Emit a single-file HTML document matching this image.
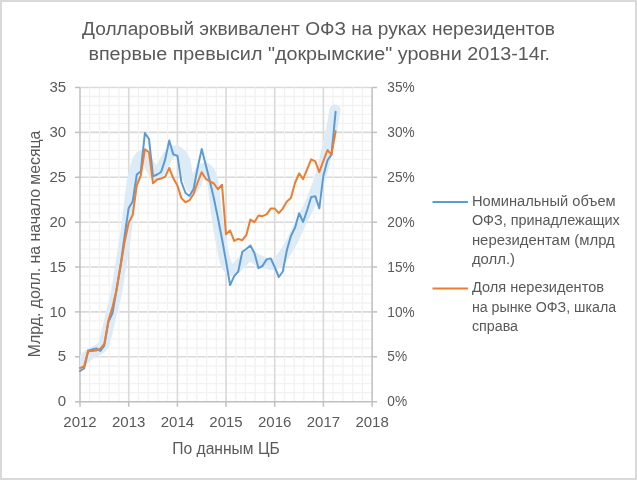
<!DOCTYPE html>
<html><head><meta charset="utf-8"><style>
html,body{margin:0;padding:0;background:#fff}
body{width:637px;height:480px;overflow:hidden}
svg{display:block;filter:blur(0.4px)}
.mn{stroke:#f2f2f2;stroke-width:1.3}
.mj{stroke:#d9d9d9;stroke-width:1.6}
.ax line{stroke:#bfbfbf;stroke-width:1.5}
text{font-family:"Liberation Sans",Arial,sans-serif;fill:#595959}
.tk{font-size:15px}
.ttl{font-size:18px}
.lg{font-size:13.8px}
.at{font-size:16px}
</style></head><body>
<svg width="637" height="480" viewBox="0 0 637 480">
<rect x="1" y="1" width="635" height="478" fill="#fff" stroke="#d9d9d9" stroke-width="2"/>
<g><line x1="80.0" x2="372.1" y1="392.7" y2="392.7" class="mn"/>
<line x1="80.0" x2="372.1" y1="383.7" y2="383.7" class="mn"/>
<line x1="80.0" x2="372.1" y1="374.8" y2="374.8" class="mn"/>
<line x1="80.0" x2="372.1" y1="365.8" y2="365.8" class="mn"/>
<line x1="80.0" x2="372.1" y1="347.8" y2="347.8" class="mn"/>
<line x1="80.0" x2="372.1" y1="338.9" y2="338.9" class="mn"/>
<line x1="80.0" x2="372.1" y1="329.9" y2="329.9" class="mn"/>
<line x1="80.0" x2="372.1" y1="320.9" y2="320.9" class="mn"/>
<line x1="80.0" x2="372.1" y1="303.0" y2="303.0" class="mn"/>
<line x1="80.0" x2="372.1" y1="294.0" y2="294.0" class="mn"/>
<line x1="80.0" x2="372.1" y1="285.0" y2="285.0" class="mn"/>
<line x1="80.0" x2="372.1" y1="276.0" y2="276.0" class="mn"/>
<line x1="80.0" x2="372.1" y1="258.1" y2="258.1" class="mn"/>
<line x1="80.0" x2="372.1" y1="249.1" y2="249.1" class="mn"/>
<line x1="80.0" x2="372.1" y1="240.1" y2="240.1" class="mn"/>
<line x1="80.0" x2="372.1" y1="231.1" y2="231.1" class="mn"/>
<line x1="80.0" x2="372.1" y1="213.2" y2="213.2" class="mn"/>
<line x1="80.0" x2="372.1" y1="204.2" y2="204.2" class="mn"/>
<line x1="80.0" x2="372.1" y1="195.2" y2="195.2" class="mn"/>
<line x1="80.0" x2="372.1" y1="186.3" y2="186.3" class="mn"/>
<line x1="80.0" x2="372.1" y1="168.3" y2="168.3" class="mn"/>
<line x1="80.0" x2="372.1" y1="159.3" y2="159.3" class="mn"/>
<line x1="80.0" x2="372.1" y1="150.3" y2="150.3" class="mn"/>
<line x1="80.0" x2="372.1" y1="141.4" y2="141.4" class="mn"/>
<line x1="80.0" x2="372.1" y1="123.4" y2="123.4" class="mn"/>
<line x1="80.0" x2="372.1" y1="114.4" y2="114.4" class="mn"/>
<line x1="80.0" x2="372.1" y1="105.5" y2="105.5" class="mn"/>
<line x1="80.0" x2="372.1" y1="96.5" y2="96.5" class="mn"/>
<line x1="80.0" x2="372.1" y1="356.8" y2="356.8" class="mj"/>
<line x1="80.0" x2="372.1" y1="311.9" y2="311.9" class="mj"/>
<line x1="80.0" x2="372.1" y1="267.0" y2="267.0" class="mj"/>
<line x1="80.0" x2="372.1" y1="222.2" y2="222.2" class="mj"/>
<line x1="80.0" x2="372.1" y1="177.3" y2="177.3" class="mj"/>
<line x1="80.0" x2="372.1" y1="132.4" y2="132.4" class="mj"/>
<line x1="80.0" x2="372.1" y1="87.5" y2="87.5" class="mj"/>
<line x1="89.7" x2="89.7" y1="87.5" y2="401.7" class="mn"/>
<line x1="99.5" x2="99.5" y1="87.5" y2="401.7" class="mn"/>
<line x1="109.2" x2="109.2" y1="87.5" y2="401.7" class="mn"/>
<line x1="118.9" x2="118.9" y1="87.5" y2="401.7" class="mn"/>
<line x1="138.4" x2="138.4" y1="87.5" y2="401.7" class="mn"/>
<line x1="148.2" x2="148.2" y1="87.5" y2="401.7" class="mn"/>
<line x1="157.9" x2="157.9" y1="87.5" y2="401.7" class="mn"/>
<line x1="167.6" x2="167.6" y1="87.5" y2="401.7" class="mn"/>
<line x1="187.1" x2="187.1" y1="87.5" y2="401.7" class="mn"/>
<line x1="196.8" x2="196.8" y1="87.5" y2="401.7" class="mn"/>
<line x1="206.6" x2="206.6" y1="87.5" y2="401.7" class="mn"/>
<line x1="216.3" x2="216.3" y1="87.5" y2="401.7" class="mn"/>
<line x1="235.8" x2="235.8" y1="87.5" y2="401.7" class="mn"/>
<line x1="245.5" x2="245.5" y1="87.5" y2="401.7" class="mn"/>
<line x1="255.2" x2="255.2" y1="87.5" y2="401.7" class="mn"/>
<line x1="265.0" x2="265.0" y1="87.5" y2="401.7" class="mn"/>
<line x1="284.5" x2="284.5" y1="87.5" y2="401.7" class="mn"/>
<line x1="294.2" x2="294.2" y1="87.5" y2="401.7" class="mn"/>
<line x1="303.9" x2="303.9" y1="87.5" y2="401.7" class="mn"/>
<line x1="313.7" x2="313.7" y1="87.5" y2="401.7" class="mn"/>
<line x1="333.1" x2="333.1" y1="87.5" y2="401.7" class="mn"/>
<line x1="342.9" x2="342.9" y1="87.5" y2="401.7" class="mn"/>
<line x1="352.6" x2="352.6" y1="87.5" y2="401.7" class="mn"/>
<line x1="362.3" x2="362.3" y1="87.5" y2="401.7" class="mn"/>
<line x1="128.7" x2="128.7" y1="87.5" y2="401.7" class="mj"/>
<line x1="177.4" x2="177.4" y1="87.5" y2="401.7" class="mj"/>
<line x1="226.0" x2="226.0" y1="87.5" y2="401.7" class="mj"/>
<line x1="274.7" x2="274.7" y1="87.5" y2="401.7" class="mj"/>
<line x1="323.4" x2="323.4" y1="87.5" y2="401.7" class="mj"/></g>
<g class="ax"><line x1="80.0" x2="80.0" y1="87.5" y2="406.7"/>
<line x1="372.1" x2="372.1" y1="87.5" y2="406.7"/>
<line x1="75.0" x2="377.1" y1="401.7" y2="401.7"/>
<line x1="75.0" x2="80.0" y1="356.8" y2="356.8"/>
<line x1="372.1" x2="377.1" y1="356.8" y2="356.8"/>
<line x1="75.0" x2="80.0" y1="311.9" y2="311.9"/>
<line x1="372.1" x2="377.1" y1="311.9" y2="311.9"/>
<line x1="75.0" x2="80.0" y1="267.0" y2="267.0"/>
<line x1="372.1" x2="377.1" y1="267.0" y2="267.0"/>
<line x1="75.0" x2="80.0" y1="222.2" y2="222.2"/>
<line x1="372.1" x2="377.1" y1="222.2" y2="222.2"/>
<line x1="75.0" x2="80.0" y1="177.3" y2="177.3"/>
<line x1="372.1" x2="377.1" y1="177.3" y2="177.3"/>
<line x1="75.0" x2="80.0" y1="132.4" y2="132.4"/>
<line x1="372.1" x2="377.1" y1="132.4" y2="132.4"/>
<line x1="75.0" x2="80.0" y1="87.5" y2="87.5"/>
<line x1="372.1" x2="377.1" y1="87.5" y2="87.5"/>
<line x1="128.7" x2="128.7" y1="401.7" y2="406.7"/>
<line x1="177.4" x2="177.4" y1="401.7" y2="406.7"/>
<line x1="226.0" x2="226.0" y1="401.7" y2="406.7"/>
<line x1="274.7" x2="274.7" y1="401.7" y2="406.7"/>
<line x1="323.4" x2="323.4" y1="401.7" y2="406.7"/></g>
<defs><clipPath id="pc"><rect x="80.0" y="77.5" width="292.1" height="324.2"/></clipPath></defs>
<path clip-path="url(#pc)" d="M80.0,363.3 C81.0,362.3 84.2,359.2 86.0,357.5 C87.8,355.8 89.2,354.2 91.0,353.0 C92.8,351.8 95.0,351.7 97.0,350.5 C99.0,349.3 101.5,348.4 103.0,345.8 C104.5,343.2 104.9,340.6 106.3,335.0 C107.7,329.4 109.8,320.0 111.6,312.5 C113.4,305.0 115.2,299.1 116.9,290.0 C118.6,280.9 120.3,268.8 122.0,258.0 C123.7,247.2 125.3,237.7 127.0,225.0 C128.7,212.3 130.8,192.0 132.3,182.0 C133.9,172.0 134.9,169.2 136.3,165.0 C137.7,160.8 139.1,157.8 140.5,156.5 C141.9,155.2 143.2,155.7 145.0,157.5 C146.8,159.3 149.2,164.6 151.0,167.5 C152.8,170.4 154.2,175.0 156.0,175.0 C157.8,175.0 159.5,170.7 161.5,167.5 C163.5,164.3 165.9,158.8 168.0,156.0 C170.1,153.2 172.2,151.6 174.0,151.0 C175.8,150.4 177.3,151.0 179.0,152.5 C180.7,154.0 183.1,156.6 184.4,160.0 C185.7,163.4 186.1,169.2 187.0,173.0 C187.9,176.8 189.0,180.5 190.0,183.0 C191.0,185.5 192.0,188.0 193.0,188.0 C194.0,188.0 194.9,185.5 196.0,183.0 C197.1,180.5 198.2,175.4 199.5,173.0 C200.8,170.6 202.2,169.2 203.5,168.5 C204.8,167.8 205.8,167.9 207.0,169.0 C208.2,170.1 209.8,171.5 211.0,175.0 C212.2,178.5 213.0,183.3 214.0,190.0 C215.0,196.7 215.0,203.3 216.8,215.0 C218.6,226.7 222.5,250.8 225.0,260.0 C227.5,269.2 229.5,269.3 232.0,270.0 C234.5,270.7 237.2,266.4 240.0,264.0 C242.8,261.6 246.1,256.2 249.0,255.5 C251.9,254.8 254.7,258.8 257.5,260.0 C260.3,261.2 263.2,262.2 266.0,263.0 C268.8,263.8 271.4,265.3 274.0,264.5 C276.6,263.7 279.2,260.7 281.5,258.0 C283.8,255.3 286.0,251.8 288.0,248.5 C290.0,245.2 291.5,242.6 293.5,238.5 C295.5,234.4 297.1,230.1 300.0,224.0 C302.9,217.9 307.8,209.3 311.0,202.0 C314.2,194.7 317.2,186.2 319.3,180.0 C321.4,173.8 322.5,170.0 323.8,165.0 C325.1,160.0 325.7,155.8 327.0,150.0 C328.3,144.2 330.2,136.7 331.5,130.0 C332.8,123.3 334.4,113.3 335.0,110.0" fill="none" stroke="#ddebf7" stroke-width="11.2" stroke-linecap="round" stroke-linejoin="round"/>
<polyline points="80.0,371.0 84.1,368.5 88.1,350.8 92.2,349.5 96.2,348.4 100.3,351.0 104.3,345.6 108.4,322.0 112.5,313.0 116.5,290.0 120.6,265.0 124.6,236.0 128.7,207.9 132.7,201.4 136.8,174.5 140.8,171.4 144.9,133.1 149.0,139.0 153.0,176.4 157.1,174.5 161.1,172.0 165.2,159.4 169.2,140.6 173.3,154.4 177.4,155.7 181.4,182.0 185.5,193.0 189.5,196.0 193.6,189.0 197.6,168.0 201.7,149.1 205.8,165.0 209.8,181.0 213.9,198.5 217.9,218.0 222.0,239.0 226.0,261.0 230.1,285.1 234.2,276.2 238.2,271.6 242.3,251.8 246.3,249.0 250.4,245.5 254.4,253.0 258.5,268.2 262.5,266.0 266.6,259.4 270.7,258.4 274.7,267.0 278.8,277.0 282.8,271.5 286.9,250.0 290.9,236.0 295.0,227.7 299.1,213.2 303.1,222.0 307.2,210.0 311.2,197.0 315.3,196.2 319.3,208.4 323.4,175.5 327.5,160.3 331.5,154.6 335.6,111.7" fill="none" stroke="#5b9bd5" stroke-width="2" stroke-linejoin="round" stroke-linecap="round"/>
<polyline points="80.0,368.0 84.1,366.5 88.1,351.2 92.2,350.9 96.2,350.6 100.3,348.6 104.3,343.9 108.4,320.6 112.5,307.0 116.5,290.0 120.6,266.0 124.6,242.0 128.7,222.7 132.7,214.9 136.8,185.2 140.8,175.5 144.9,149.2 149.0,152.3 153.0,183.3 157.1,179.5 161.1,178.6 165.2,176.7 169.2,167.9 173.3,178.3 177.4,185.6 181.4,198.1 185.5,202.3 189.5,200.2 193.6,194.0 197.6,182.5 201.7,172.2 205.8,178.8 209.8,181.3 213.9,183.5 217.9,189.2 222.0,184.8 226.0,234.2 230.1,230.5 234.2,240.9 238.2,238.9 242.3,240.2 246.3,235.2 250.4,219.6 254.4,222.2 258.5,215.4 262.5,216.2 266.6,214.4 270.7,208.6 274.7,208.6 278.8,213.1 282.8,208.6 286.9,201.4 290.9,198.1 295.0,183.0 299.1,173.3 303.1,179.1 307.2,169.2 311.2,159.3 315.3,161.4 319.3,172.1 323.4,160.8 327.5,150.0 331.5,154.6 335.6,131.3" fill="none" stroke="#ed7d31" stroke-width="2" stroke-linejoin="round" stroke-linecap="round"/>
<text x="66.2" y="406.3" text-anchor="end" class="tk">0</text>
<text x="387.3" y="406.3" class="tk" textLength="19.8" lengthAdjust="spacingAndGlyphs">0%</text>
<text x="66.2" y="361.4" text-anchor="end" class="tk">5</text>
<text x="387.3" y="361.4" class="tk" textLength="19.8" lengthAdjust="spacingAndGlyphs">5%</text>
<text x="66.2" y="316.5" text-anchor="end" class="tk">10</text>
<text x="387.3" y="316.5" class="tk" textLength="27.4" lengthAdjust="spacingAndGlyphs">10%</text>
<text x="66.2" y="271.6" text-anchor="end" class="tk">15</text>
<text x="387.3" y="271.6" class="tk" textLength="27.4" lengthAdjust="spacingAndGlyphs">15%</text>
<text x="66.2" y="226.8" text-anchor="end" class="tk">20</text>
<text x="387.3" y="226.8" class="tk" textLength="27.4" lengthAdjust="spacingAndGlyphs">20%</text>
<text x="66.2" y="181.9" text-anchor="end" class="tk">25</text>
<text x="387.3" y="181.9" class="tk" textLength="27.4" lengthAdjust="spacingAndGlyphs">25%</text>
<text x="66.2" y="137.0" text-anchor="end" class="tk">30</text>
<text x="387.3" y="137.0" class="tk" textLength="27.4" lengthAdjust="spacingAndGlyphs">30%</text>
<text x="66.2" y="92.1" text-anchor="end" class="tk">35</text>
<text x="387.3" y="92.1" class="tk" textLength="27.4" lengthAdjust="spacingAndGlyphs">35%</text>
<text x="80.0" y="427" text-anchor="middle" class="tk">2012</text>
<text x="128.7" y="427" text-anchor="middle" class="tk">2013</text>
<text x="177.4" y="427" text-anchor="middle" class="tk">2014</text>
<text x="226.0" y="427" text-anchor="middle" class="tk">2015</text>
<text x="274.7" y="427" text-anchor="middle" class="tk">2016</text>
<text x="323.4" y="427" text-anchor="middle" class="tk">2017</text>
<text x="372.1" y="427" text-anchor="middle" class="tk">2018</text>
<text x="318.5" y="34.6" text-anchor="middle" class="ttl" textLength="472.8" lengthAdjust="spacingAndGlyphs">Долларовый эквивалент ОФЗ на руках нерезидентов</text>
<text x="319.2" y="59.6" text-anchor="middle" class="ttl" textLength="461.5" lengthAdjust="spacingAndGlyphs">впервые превысил "докрымские" уровни 2013-14г.</text>
<text transform="translate(40,243.9) rotate(-90)" text-anchor="middle" class="at" textLength="226.5" lengthAdjust="spacingAndGlyphs">Млрд. долл. на начало месяца</text>
<text x="226.0" y="453.6" text-anchor="middle" class="at" textLength="107.5" lengthAdjust="spacingAndGlyphs">По данным ЦБ</text>
<line x1="432.5" x2="467.9" y1="201.9" y2="201.9" stroke="#5b9bd5" stroke-width="2"/>
<line x1="432.5" x2="467.9" y1="288.6" y2="288.6" stroke="#ed7d31" stroke-width="2"/>
<text x="471.9" y="205.75" class="lg" textLength="143.8" lengthAdjust="spacingAndGlyphs">Номинальный объем</text>
<text x="471.9" y="225.3" class="lg" textLength="147.9" lengthAdjust="spacingAndGlyphs">ОФЗ, принадлежащих</text>
<text x="471.9" y="244.9" class="lg" textLength="142.9" lengthAdjust="spacingAndGlyphs">нерезидентам (млрд</text>
<text x="471.9" y="264.3" class="lg" textLength="43.1" lengthAdjust="spacingAndGlyphs">долл.)</text>
<text x="471.9" y="292.2" class="lg" textLength="132.1" lengthAdjust="spacingAndGlyphs">Доля нерезидентов</text>
<text x="471.9" y="311.5" class="lg" textLength="144.2" lengthAdjust="spacingAndGlyphs">на рынке ОФЗ, шкала</text>
<text x="471.9" y="331" class="lg" textLength="46.2" lengthAdjust="spacingAndGlyphs">справа</text>
</svg>
</body></html>
